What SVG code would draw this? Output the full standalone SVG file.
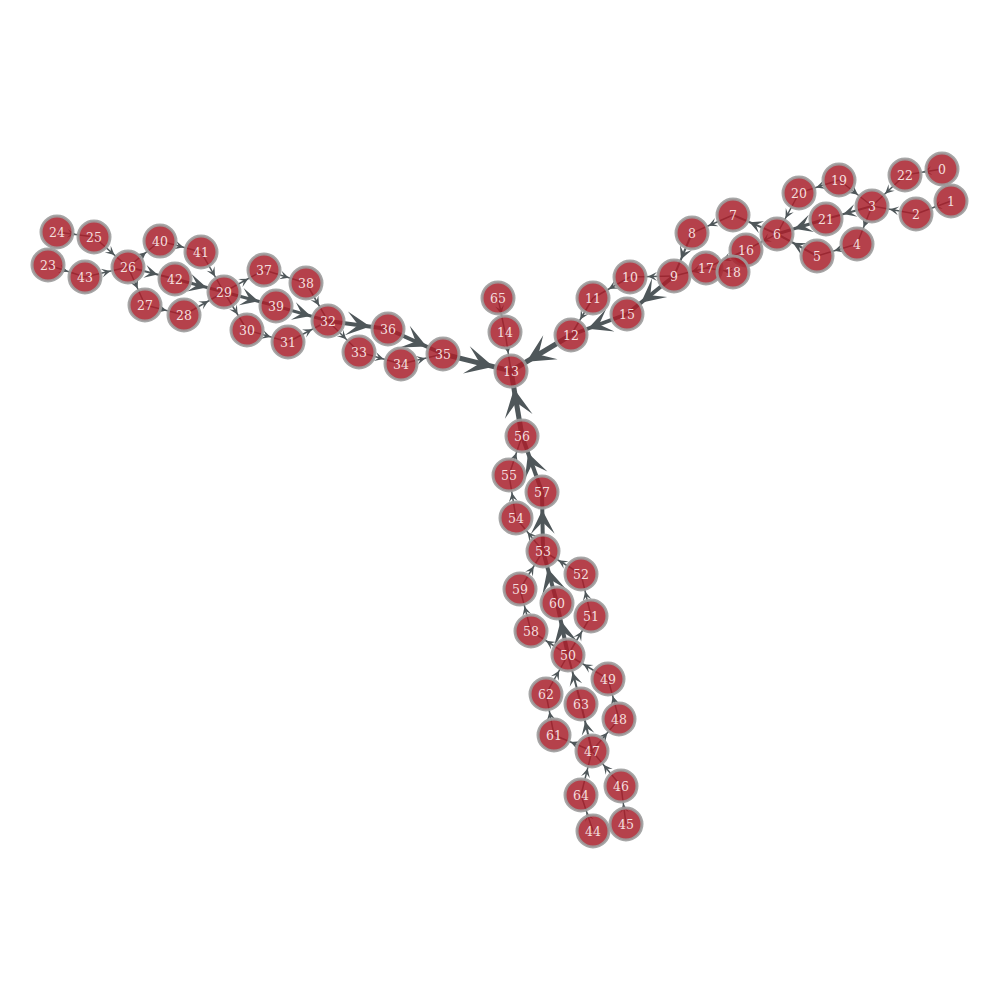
<svg xmlns="http://www.w3.org/2000/svg" width="1000" height="1000" viewBox="0 0 1000 1000">
<style>
.e{stroke:#4f575a;stroke-width:1.5;fill:none}
.e[marker-end="url(#a11)"]{stroke-width:2}
.e[marker-end="url(#a16)"]{stroke-width:3}
.e[marker-end="url(#a21)"]{stroke-width:4}
.e[marker-end="url(#a27)"]{stroke-width:5}
.ah{fill:#4f575a}
.node circle{fill:#a8202b;fill-opacity:0.85;stroke:#9c9c9c;stroke-opacity:0.9;stroke-width:3}
.node text{font-family:"DejaVu Serif",serif;font-size:12.5px;fill:#f4dede;text-anchor:middle;dominant-baseline:central}
</style>
<defs>
<marker id="a7" viewBox="-60 -20 60 40" markerWidth="60" markerHeight="40" refX="0" refY="0" markerUnits="userSpaceOnUse" orient="auto" overflow="visible"><path class="ah" d="M-18,0 L-27,-4.5 L-23,0 L-27,4.5 Z"/></marker>
<marker id="a11" viewBox="-60 -20 60 40" markerWidth="60" markerHeight="40" refX="0" refY="0" markerUnits="userSpaceOnUse" orient="auto" overflow="visible"><path class="ah" d="M-18,0 L-31,-6.5 L-25,0 L-31,6.5 Z"/></marker>
<marker id="a16" viewBox="-60 -20 60 40" markerWidth="60" markerHeight="40" refX="0" refY="0" markerUnits="userSpaceOnUse" orient="auto" overflow="visible"><path class="ah" d="M-18,0 L-36,-9 L-27.5,0 L-36,9 Z"/></marker>
<marker id="a21" viewBox="-60 -20 60 40" markerWidth="60" markerHeight="40" refX="0" refY="0" markerUnits="userSpaceOnUse" orient="auto" overflow="visible"><path class="ah" d="M-18,0 L-42,-12 L-30,0 L-42,12 Z"/></marker>
<marker id="a27" viewBox="-60 -20 60 40" markerWidth="60" markerHeight="40" refX="0" refY="0" markerUnits="userSpaceOnUse" orient="auto" overflow="visible"><path class="ah" d="M-18,0 L-46,-14 L-32,0 L-46,14 Z"/></marker>
</defs>
<g id="edges">
<line class="e" x1="942" y1="169" x2="905" y2="175" marker-end="url(#a7)"/>
<line class="e" x1="951" y1="201" x2="916" y2="214" marker-end="url(#a7)"/>
<line class="e" x1="905" y1="175" x2="872" y2="206" marker-end="url(#a7)"/>
<line class="e" x1="916" y1="214" x2="872" y2="206" marker-end="url(#a7)"/>
<line class="e" x1="839" y1="180" x2="872" y2="206" marker-end="url(#a7)"/>
<line class="e" x1="839" y1="180" x2="799" y2="193" marker-end="url(#a7)"/>
<line class="e" x1="872" y1="206" x2="826" y2="219" marker-end="url(#a11)"/>
<line class="e" x1="872" y1="206" x2="857" y2="244" marker-end="url(#a7)"/>
<line class="e" x1="857" y1="244" x2="817" y2="256" marker-end="url(#a7)"/>
<line class="e" x1="817" y1="256" x2="777" y2="234" marker-end="url(#a11)"/>
<line class="e" x1="799" y1="193" x2="777" y2="234" marker-end="url(#a7)"/>
<line class="e" x1="826" y1="219" x2="777" y2="234" marker-end="url(#a16)"/>
<line class="e" x1="777" y1="234" x2="746" y2="250" marker-end="url(#a7)"/>
<line class="e" x1="777" y1="234" x2="733" y2="215" marker-end="url(#a11)"/>
<line class="e" x1="733" y1="215" x2="692" y2="233" marker-end="url(#a7)"/>
<line class="e" x1="692" y1="233" x2="674" y2="276" marker-end="url(#a11)"/>
<line class="e" x1="746" y1="250" x2="706" y2="268" marker-end="url(#a7)"/>
<line class="e" x1="733" y1="272" x2="706" y2="268" marker-end="url(#a7)"/>
<line class="e" x1="706" y1="268" x2="674" y2="276" marker-end="url(#a7)"/>
<line class="e" x1="674" y1="276" x2="630" y2="277" marker-end="url(#a7)"/>
<line class="e" x1="674" y1="276" x2="627" y2="314" marker-end="url(#a21)"/>
<line class="e" x1="630" y1="277" x2="593" y2="298" marker-end="url(#a7)"/>
<line class="e" x1="593" y1="298" x2="571" y2="335" marker-end="url(#a7)"/>
<line class="e" x1="627" y1="314" x2="571" y2="335" marker-end="url(#a21)"/>
<line class="e" x1="571" y1="335" x2="511" y2="371" marker-end="url(#a27)"/>
<line class="e" x1="498" y1="298" x2="505" y2="332" marker-end="url(#a7)"/>
<line class="e" x1="505" y1="332" x2="511" y2="371" marker-end="url(#a7)"/>
<line class="e" x1="57" y1="232" x2="94" y2="237" marker-end="url(#a7)"/>
<line class="e" x1="48" y1="265" x2="85" y2="277" marker-end="url(#a7)"/>
<line class="e" x1="94" y1="237" x2="128" y2="267" marker-end="url(#a7)"/>
<line class="e" x1="85" y1="277" x2="128" y2="267" marker-end="url(#a7)"/>
<line class="e" x1="128" y1="267" x2="160" y2="241" marker-end="url(#a7)"/>
<line class="e" x1="160" y1="241" x2="201" y2="252" marker-end="url(#a7)"/>
<line class="e" x1="201" y1="252" x2="224" y2="292" marker-end="url(#a7)"/>
<line class="e" x1="128" y1="267" x2="175" y2="279" marker-end="url(#a11)"/>
<line class="e" x1="128" y1="267" x2="145" y2="305" marker-end="url(#a7)"/>
<line class="e" x1="145" y1="305" x2="184" y2="315" marker-end="url(#a7)"/>
<line class="e" x1="184" y1="315" x2="224" y2="292" marker-end="url(#a7)"/>
<line class="e" x1="175" y1="279" x2="224" y2="292" marker-end="url(#a16)"/>
<line class="e" x1="224" y1="292" x2="264" y2="270" marker-end="url(#a7)"/>
<line class="e" x1="224" y1="292" x2="276" y2="306" marker-end="url(#a16)"/>
<line class="e" x1="224" y1="292" x2="247" y2="330" marker-end="url(#a7)"/>
<line class="e" x1="264" y1="270" x2="306" y2="283" marker-end="url(#a7)"/>
<line class="e" x1="306" y1="283" x2="328" y2="321" marker-end="url(#a7)"/>
<line class="e" x1="276" y1="306" x2="328" y2="321" marker-end="url(#a16)"/>
<line class="e" x1="247" y1="330" x2="288" y2="342" marker-end="url(#a7)"/>
<line class="e" x1="288" y1="342" x2="328" y2="321" marker-end="url(#a7)"/>
<line class="e" x1="328" y1="321" x2="388" y2="329" marker-end="url(#a21)"/>
<line class="e" x1="328" y1="321" x2="359" y2="352" marker-end="url(#a7)"/>
<line class="e" x1="359" y1="352" x2="401" y2="364" marker-end="url(#a7)"/>
<line class="e" x1="388" y1="329" x2="443" y2="354" marker-end="url(#a21)"/>
<line class="e" x1="401" y1="364" x2="443" y2="354" marker-end="url(#a7)"/>
<line class="e" x1="443" y1="354" x2="511" y2="371" marker-end="url(#a27)"/>
<line class="e" x1="522" y1="436" x2="511" y2="371" marker-end="url(#a27)"/>
<line class="e" x1="509" y1="475" x2="522" y2="436" marker-end="url(#a7)"/>
<line class="e" x1="542" y1="492" x2="522" y2="436" marker-end="url(#a21)"/>
<line class="e" x1="516" y1="518" x2="509" y2="475" marker-end="url(#a7)"/>
<line class="e" x1="543" y1="551" x2="542" y2="492" marker-end="url(#a21)"/>
<line class="e" x1="543" y1="551" x2="516" y2="518" marker-end="url(#a7)"/>
<line class="e" x1="520" y1="589" x2="543" y2="551" marker-end="url(#a7)"/>
<line class="e" x1="557" y1="603" x2="543" y2="551" marker-end="url(#a21)"/>
<line class="e" x1="581" y1="574" x2="543" y2="551" marker-end="url(#a7)"/>
<line class="e" x1="591" y1="616" x2="581" y2="574" marker-end="url(#a7)"/>
<line class="e" x1="531" y1="631" x2="520" y2="589" marker-end="url(#a7)"/>
<line class="e" x1="568" y1="655" x2="557" y2="603" marker-end="url(#a21)"/>
<line class="e" x1="568" y1="655" x2="591" y2="616" marker-end="url(#a7)"/>
<line class="e" x1="568" y1="655" x2="531" y2="631" marker-end="url(#a7)"/>
<line class="e" x1="608" y1="679" x2="568" y2="655" marker-end="url(#a7)"/>
<line class="e" x1="546" y1="694" x2="568" y2="655" marker-end="url(#a7)"/>
<line class="e" x1="581" y1="704" x2="568" y2="655" marker-end="url(#a11)"/>
<line class="e" x1="619" y1="719" x2="608" y2="679" marker-end="url(#a7)"/>
<line class="e" x1="554" y1="735" x2="546" y2="694" marker-end="url(#a7)"/>
<line class="e" x1="592" y1="751" x2="581" y2="704" marker-end="url(#a11)"/>
<line class="e" x1="592" y1="751" x2="554" y2="735" marker-end="url(#a7)"/>
<line class="e" x1="592" y1="751" x2="619" y2="719" marker-end="url(#a7)"/>
<line class="e" x1="581" y1="795" x2="592" y2="751" marker-end="url(#a7)"/>
<line class="e" x1="621" y1="786" x2="592" y2="751" marker-end="url(#a7)"/>
<line class="e" x1="593" y1="831" x2="581" y2="795" marker-end="url(#a7)"/>
<line class="e" x1="626" y1="824" x2="621" y2="786" marker-end="url(#a7)"/>
</g>
<g id="n0" class="node"><circle cx="942" cy="169" r="16"/><text x="942" y="169">0</text></g>
<g id="n1" class="node"><circle cx="951" cy="201" r="16"/><text x="951" y="201">1</text></g>
<g id="n2" class="node"><circle cx="916" cy="214" r="16"/><text x="916" y="214">2</text></g>
<g id="n3" class="node"><circle cx="872" cy="206" r="16"/><text x="872" y="206">3</text></g>
<g id="n4" class="node"><circle cx="857" cy="244" r="16"/><text x="857" y="244">4</text></g>
<g id="n5" class="node"><circle cx="817" cy="256" r="16"/><text x="817" y="256">5</text></g>
<g id="n6" class="node"><circle cx="777" cy="234" r="16"/><text x="777" y="234">6</text></g>
<g id="n7" class="node"><circle cx="733" cy="215" r="16"/><text x="733" y="215">7</text></g>
<g id="n8" class="node"><circle cx="692" cy="233" r="16"/><text x="692" y="233">8</text></g>
<g id="n9" class="node"><circle cx="674" cy="276" r="16"/><text x="674" y="276">9</text></g>
<g id="n10" class="node"><circle cx="630" cy="277" r="16"/><text x="630" y="277">10</text></g>
<g id="n11" class="node"><circle cx="593" cy="298" r="16"/><text x="593" y="298">11</text></g>
<g id="n12" class="node"><circle cx="571" cy="335" r="16"/><text x="571" y="335">12</text></g>
<g id="n14" class="node"><circle cx="505" cy="332" r="16"/><text x="505" y="332">14</text></g>
<g id="n13" class="node"><circle cx="511" cy="371" r="16"/><text x="511" y="371">13</text></g>
<g id="n15" class="node"><circle cx="627" cy="314" r="16"/><text x="627" y="314">15</text></g>
<g id="n16" class="node"><circle cx="746" cy="250" r="16"/><text x="746" y="250">16</text></g>
<g id="n17" class="node"><circle cx="706" cy="268" r="16"/><text x="706" y="268">17</text></g>
<g id="n18" class="node"><circle cx="733" cy="272" r="16"/><text x="733" y="272">18</text></g>
<g id="n19" class="node"><circle cx="839" cy="180" r="16"/><text x="839" y="180">19</text></g>
<g id="n20" class="node"><circle cx="799" cy="193" r="16"/><text x="799" y="193">20</text></g>
<g id="n21" class="node"><circle cx="826" cy="219" r="16"/><text x="826" y="219">21</text></g>
<g id="n22" class="node"><circle cx="905" cy="175" r="16"/><text x="905" y="175">22</text></g>
<g id="n23" class="node"><circle cx="48" cy="265" r="16"/><text x="48" y="265">23</text></g>
<g id="n24" class="node"><circle cx="57" cy="232" r="16"/><text x="57" y="232">24</text></g>
<g id="n25" class="node"><circle cx="94" cy="237" r="16"/><text x="94" y="237">25</text></g>
<g id="n26" class="node"><circle cx="128" cy="267" r="16"/><text x="128" y="267">26</text></g>
<g id="n27" class="node"><circle cx="145" cy="305" r="16"/><text x="145" y="305">27</text></g>
<g id="n28" class="node"><circle cx="184" cy="315" r="16"/><text x="184" y="315">28</text></g>
<g id="n29" class="node"><circle cx="224" cy="292" r="16"/><text x="224" y="292">29</text></g>
<g id="n30" class="node"><circle cx="247" cy="330" r="16"/><text x="247" y="330">30</text></g>
<g id="n31" class="node"><circle cx="288" cy="342" r="16"/><text x="288" y="342">31</text></g>
<g id="n32" class="node"><circle cx="328" cy="321" r="16"/><text x="328" y="321">32</text></g>
<g id="n33" class="node"><circle cx="359" cy="352" r="16"/><text x="359" y="352">33</text></g>
<g id="n34" class="node"><circle cx="401" cy="364" r="16"/><text x="401" y="364">34</text></g>
<g id="n35" class="node"><circle cx="443" cy="354" r="16"/><text x="443" y="354">35</text></g>
<g id="n36" class="node"><circle cx="388" cy="329" r="16"/><text x="388" y="329">36</text></g>
<g id="n37" class="node"><circle cx="264" cy="270" r="16"/><text x="264" y="270">37</text></g>
<g id="n38" class="node"><circle cx="306" cy="283" r="16"/><text x="306" y="283">38</text></g>
<g id="n39" class="node"><circle cx="276" cy="306" r="16"/><text x="276" y="306">39</text></g>
<g id="n40" class="node"><circle cx="160" cy="241" r="16"/><text x="160" y="241">40</text></g>
<g id="n41" class="node"><circle cx="201" cy="252" r="16"/><text x="201" y="252">41</text></g>
<g id="n42" class="node"><circle cx="175" cy="279" r="16"/><text x="175" y="279">42</text></g>
<g id="n43" class="node"><circle cx="85" cy="277" r="16"/><text x="85" y="277">43</text></g>
<g id="n44" class="node"><circle cx="593" cy="831" r="16"/><text x="593" y="831">44</text></g>
<g id="n45" class="node"><circle cx="626" cy="824" r="16"/><text x="626" y="824">45</text></g>
<g id="n46" class="node"><circle cx="621" cy="786" r="16"/><text x="621" y="786">46</text></g>
<g id="n47" class="node"><circle cx="592" cy="751" r="16"/><text x="592" y="751">47</text></g>
<g id="n48" class="node"><circle cx="619" cy="719" r="16"/><text x="619" y="719">48</text></g>
<g id="n49" class="node"><circle cx="608" cy="679" r="16"/><text x="608" y="679">49</text></g>
<g id="n50" class="node"><circle cx="568" cy="655" r="16"/><text x="568" y="655">50</text></g>
<g id="n51" class="node"><circle cx="591" cy="616" r="16"/><text x="591" y="616">51</text></g>
<g id="n52" class="node"><circle cx="581" cy="574" r="16"/><text x="581" y="574">52</text></g>
<g id="n53" class="node"><circle cx="543" cy="551" r="16"/><text x="543" y="551">53</text></g>
<g id="n54" class="node"><circle cx="516" cy="518" r="16"/><text x="516" y="518">54</text></g>
<g id="n55" class="node"><circle cx="509" cy="475" r="16"/><text x="509" y="475">55</text></g>
<g id="n56" class="node"><circle cx="522" cy="436" r="16"/><text x="522" y="436">56</text></g>
<g id="n57" class="node"><circle cx="542" cy="492" r="16"/><text x="542" y="492">57</text></g>
<g id="n58" class="node"><circle cx="531" cy="631" r="16"/><text x="531" y="631">58</text></g>
<g id="n59" class="node"><circle cx="520" cy="589" r="16"/><text x="520" y="589">59</text></g>
<g id="n60" class="node"><circle cx="557" cy="603" r="16"/><text x="557" y="603">60</text></g>
<g id="n61" class="node"><circle cx="554" cy="735" r="16"/><text x="554" y="735">61</text></g>
<g id="n62" class="node"><circle cx="546" cy="694" r="16"/><text x="546" y="694">62</text></g>
<g id="n63" class="node"><circle cx="581" cy="704" r="16"/><text x="581" y="704">63</text></g>
<g id="n64" class="node"><circle cx="581" cy="795" r="16"/><text x="581" y="795">64</text></g>
<g id="n65" class="node"><circle cx="498" cy="298" r="16"/><text x="498" y="298">65</text></g>
</svg>
